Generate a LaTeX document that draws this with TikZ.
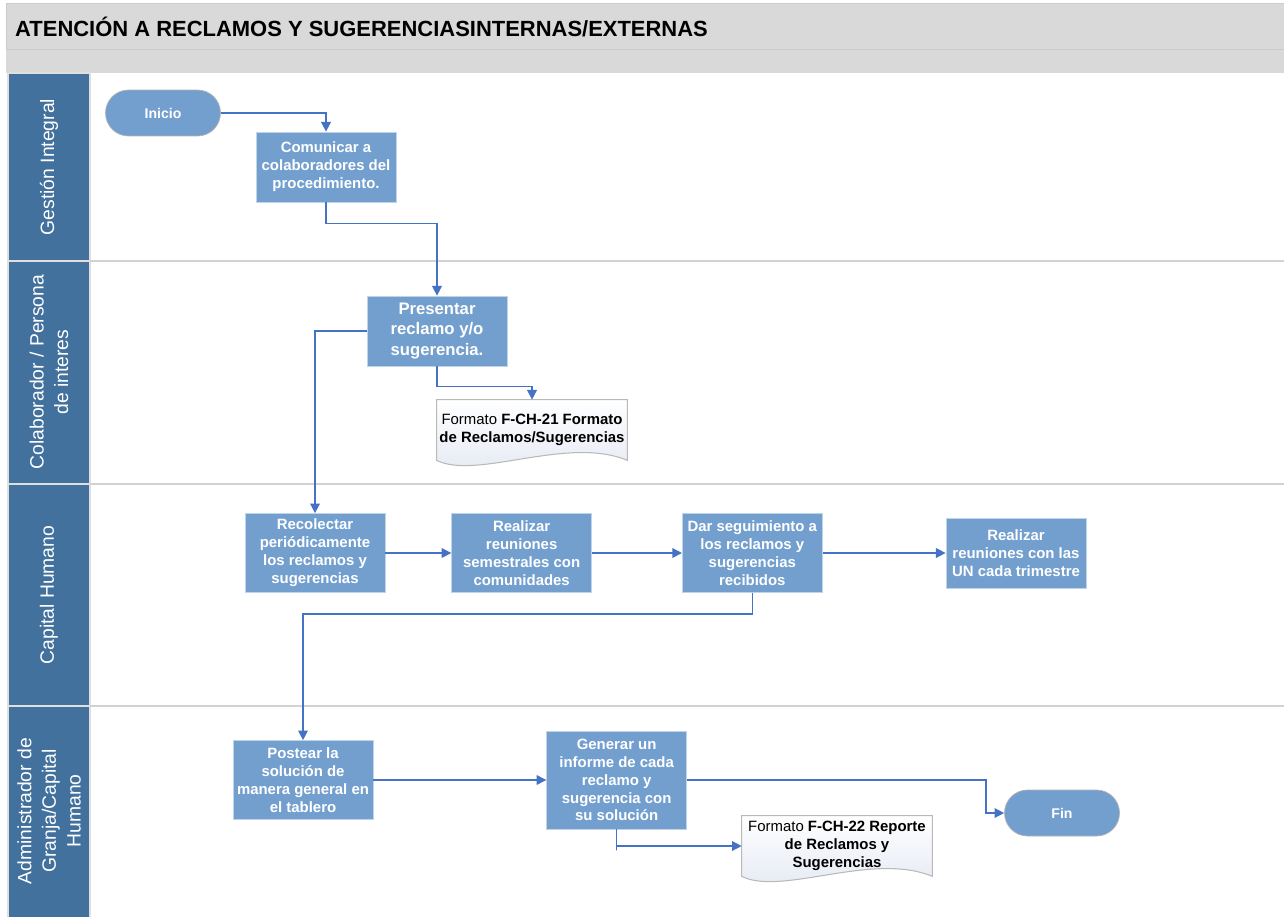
\documentclass[tikz,border=0pt]{standalone}
\usepackage{fontspec}
\setmainfont{Liberation Sans}
\usetikzlibrary{positioning,arrows.meta,calc,backgrounds}

\definecolor{boxblue}{HTML}{739FCF}
\definecolor{lanehead}{HTML}{41719C}
\definecolor{headgray}{HTML}{D9D9D9}
\definecolor{linkblue}{HTML}{4472C4}
\definecolor{docshade}{HTML}{E2E7F2}

\begin{document}
\begin{tikzpicture}[x=0.02cm,y=-0.02cm,
    >={Triangle[length=5.5pt,width=5.5pt]},
    every node/.style={font=\fontsize{8.5}{10.2}\selectfont},
    task/.style={rectangle, fill=boxblue, draw=white!55!boxblue, text=white,
      font=\fontsize{8.5}{10.2}\selectfont\bfseries, align=center,
      minimum width=2.8cm, minimum height=1.4cm, inner sep=2pt},
    term/.style={task, rounded corners=0.46cm, draw=gray!60,
      font=\fontsize{8}{10}\selectfont\bfseries,
      minimum width=2.3cm, minimum height=0.92cm},
    docu/.style={align=center, minimum width=3.8cm, minimum height=1.2cm, inner sep=1pt},
    docline/.style={draw=gray!55, line width=0.6pt, top color=white, bottom color=docshade},
    lane/.style={fill=lanehead, draw=gray!25, line width=1pt},
    lanelabel/.style={rotate=90, text=white, align=center, font=\fontsize{11}{14}\selectfont},
    sep/.style={draw=gray!35, line width=1pt},
    link/.style={->, draw=linkblue, line width=0.8pt}]
    \useasboundingbox (0,0) rectangle (1284,916);

    % header
    \fill[headgray] (6,3) rectangle (1284,73);
    \draw[gray!40] (6,3) -- (1284,3) (6,49) -- (1284,49) (6,3) -- (6,49);
    \node[anchor=west, font=\fontsize{12.5}{15}\selectfont\bfseries] (title) at (9,27)
      {ATENCIÓN A RECLAMOS Y SUGERENCIASINTERNAS/EXTERNAS};

    % lanes
    \draw[lane] (8,73) rectangle (90,261);
    \draw[lane] (8,261) rectangle (90,484);
    \draw[lane] (8,484) rectangle (90,706);
    \draw[lane] (8,706) rectangle (90,918);
    \draw[sep] (90,261) -- (1284,261);
    \draw[sep] (90,484) -- (1284,484);
    \draw[sep] (90,706) -- (1284,706);

    \node[lanelabel] (l_gi) at (49,167) {Gestión Integral};
    \node[lanelabel] (l_cp) at (49,372) {Colaborador / Persona\\de interes};
    \node[lanelabel] (l_ch) at (49,595) {Capital Humano};
    \node[lanelabel] (l_ag) at (49,811) {Administrador de\\Granja/Capital\\Humano};

    % steps
    \node[term] (inicio) at (163,113) {Inicio};
    \node[task] (comunicar) at (326,167) {Comunicar a\\colaboradores del\\procedimiento.};
    \node[task, font=\fontsize{9.5}{11.5}\selectfont\bfseries] (presentar) at (437,331)
      {Presentar\\reclamo y/o\\sugerencia.};
    \node[docu] (formato_1) at (532,430)
      {Formato \textbf{F-CH-21 Formato}\\\textbf{de Reclamos/Sugerencias}};
    \node[task, minimum height=1.58cm] (recolectar) at (315,553)
      {Recolectar\\periódicamente\\los reclamos y\\sugerencias};
    \node[task, minimum height=1.58cm] (reuniones) [right=1.32cm of recolectar]
      {Realizar\\reuniones\\semestrales con\\comunidades};
    \node[task, minimum height=1.58cm] (seguimiento) [right=1.8cm of reuniones]
      {Dar seguimiento a\\los reclamos y\\sugerencias\\recibidos};
    \node[task] (trimestre) [right=2.46cm of seguimiento]
      {Realizar\\reuniones con las\\UN cada trimestre};
    \node[task, minimum height=1.58cm] (postear) at (303,780)
      {Postear la\\solución de\\manera general en\\el tablero};
    \node[task, minimum height=1.96cm] (generar) [right=3.46cm of postear]
      {Generar un\\informe de cada\\reclamo y\\sugerencia con\\su solución};
    \node[docu] (formato_2) at (837,846)
      {Formato \textbf{F-CH-22 Reporte}\\\textbf{de Reclamos y}\\\textbf{Sugerencias}};
    \node[term] (fin) at (1062,813) {Fin};

    % document outlines
    \begin{scope}[on background layer]
      \draw[docline] (formato_1.north west) -- (formato_1.north east) -- (formato_1.south east)
        .. controls ($(formato_1.south east)+(-60,-25)$) and ($(formato_1.south west)+(40,20)$)
        .. (formato_1.south west) -- cycle;
      \draw[docline] (formato_2.north west) -- (formato_2.north east) -- (formato_2.south east)
        .. controls ($(formato_2.south east)+(-60,-25)$) and ($(formato_2.south west)+(40,20)$)
        .. (formato_2.south west) -- cycle;
    \end{scope}

    % connectors
    \draw[link] (inicio) -| (comunicar);
    \draw[link] (comunicar.south) -- ++(0,21) -| (presentar.north);
    \draw[link] (presentar.west) -| (recolectar.north);
    \draw[link] (presentar.south) -- ++(0,20) -| (formato_1.north);
    \draw[link] (recolectar) -- (reuniones);
    \draw[link] (reuniones) -- (seguimiento);
    \draw[link] (seguimiento) -- (trimestre);
    \draw[link] (seguimiento.south) -- ++(0,21) -| (postear.north);
    \draw[link] (postear) -- (generar);
    \draw[link] (generar.east) -- ++(299,0) |- (fin.west);
    \draw[link] (generar.south) -- ++(0,21) |- (formato_2.west);
\end{tikzpicture}
\end{document}
